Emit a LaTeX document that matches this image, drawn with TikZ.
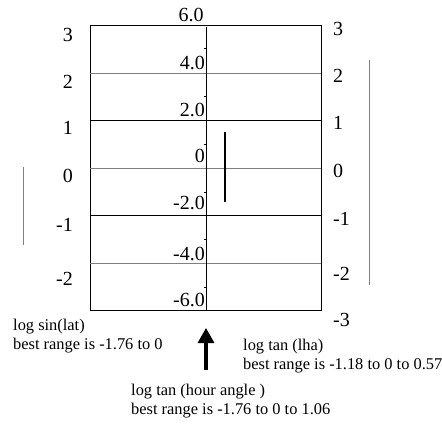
\documentclass[tikz,border=0pt]{standalone}
\usepackage{fontspec}
\setmainfont{Liberation Serif}
\usetikzlibrary{arrows.meta}
\tikzset{
    num/.style={font=\fontsize{20}{22}\selectfont, inner sep=0pt},
    txt/.style={font=\fontsize{16.4}{19}\selectfont, inner sep=0pt, anchor=west, align=left}
}
\begin{document}
\begin{tikzpicture}[x=1pt, y=-1pt]
        \useasboundingbox (0,0) rectangle (442,425);
        \coordinate (TL) at (90,25);
        \coordinate (BR) at (321,310);
        \coordinate (Ctop) at (206,27);
        \coordinate (Cbot) at (206,310);

        \draw[line width=0.8pt] (TL) rectangle (BR);
        \foreach \y/\c in {73/gray, 120/black, 168/gray, 215/black, 263/gray}
            \draw[\c, line width=0.8pt] (90,\y) -- (321,\y);

        \draw[line width=0.8pt] (Ctop) -- (Cbot);
        \foreach \y in {48,96,144,192,239,287}
            \draw[line width=0.6pt] (204,\y) -- (206,\y);

        \node[num] (s6) at (191,15) {6.0};
        \node[num, anchor=east] (s4) at (205,63) {4.0};
        \node[num, anchor=east] (s2) at (205,110) {2.0};
        \node[num, anchor=east] (s0) at (205,156) {0};
        \node[num, anchor=east] (sm2) at (205,203) {-2.0};
        \node[num, anchor=east] (sm4) at (205,254) {-4.0};
        \node[num, anchor=east] (sm6) at (205,300) {-6.0};

        \foreach \v/\y in {3/35, 2/82, 1/128, 0/176, -1/225, -2/279}
            \node[num, anchor=east] (L\v) at (73,\y) {\v};
        \foreach \v/\y in {3/29, 2/76, 1/123, 0/171, -1/219, -2/274, -3/320}
            \node[num, anchor=west] (R\v) at (333,\y) {\v};

        \draw[gray, line width=0.8pt] (23,167) -- (23,245);
        \draw[gray, line width=0.8pt] (369,60) -- (369,285);
        \draw[line width=1.2pt] (225,132) -- (225,202);

        \coordinate (Afoot) at (206,370);
        \coordinate (Atip) at (206,328);
        \draw[line width=3.2pt, -{Triangle[length=15pt, width=16pt]}] (Afoot) -- (Atip);

        \node[txt] (lat) at (13,336) {log sin(lat)\\best range is -1.76 to 0};
        \node[txt] (lha) at (243,356) {log tan (lha)\\best range is -1.18 to 0 to 0.57};
        \node[txt] (ha) at (131,401) {log tan (hour angle )\\best range is -1.76 to 0 to 1.06};
    \end{tikzpicture}
\end{document}
